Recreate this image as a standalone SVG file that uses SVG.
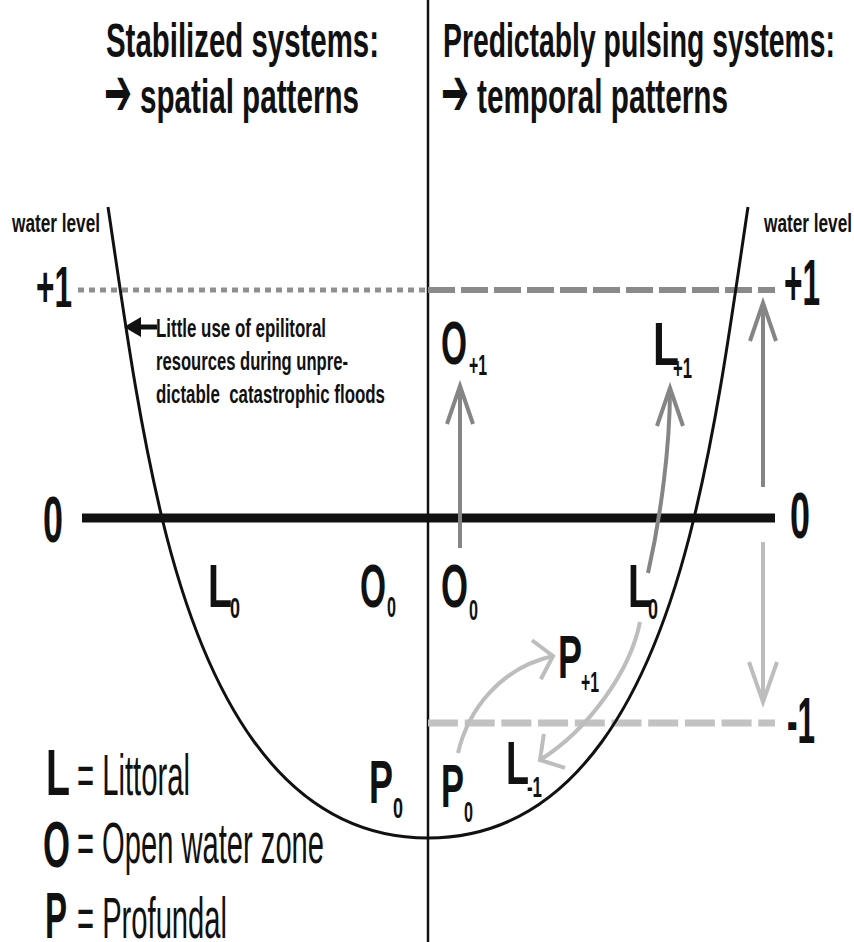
<svg xmlns="http://www.w3.org/2000/svg" width="854" height="942" viewBox="0 0 854 942">
<style>
.t{font-family:"Liberation Sans","DejaVu Sans",Arial,sans-serif;font-weight:bold;fill:#111}
.title{font-size:48px}
.arrow{font-family:"DejaVu Sans",sans-serif;font-weight:bold;font-size:68px;fill:#111}
.big{font-size:62px}
.num{font-size:64px}
.sub{font-size:30px}
.small{font-size:25px}
.note{font-size:26px;white-space:pre}
.reg{font-weight:normal;font-size:58px}
.mid{stroke:#858585;stroke-width:4;fill:none}
.light{stroke:#bdbdbd;stroke-width:4;fill:none}
</style>
<defs>
<marker id="hm" markerUnits="userSpaceOnUse" orient="auto" refX="0" refY="0" markerWidth="60" markerHeight="60" viewBox="-50 -30 60 60" overflow="visible">
<path d="M-38,-13 L0,0 L-38,13" stroke="#858585" stroke-width="4" fill="none" stroke-linejoin="miter"/>
</marker>
<marker id="hl" markerUnits="userSpaceOnUse" orient="auto" refX="0" refY="0" markerWidth="60" markerHeight="60" viewBox="-50 -30 60 60" overflow="visible">
<path d="M-40,-14 L0,0 L-40,14" stroke="#bdbdbd" stroke-width="4" fill="none"/>
</marker>
<marker id="hlw" markerUnits="userSpaceOnUse" orient="auto" refX="0" refY="0" markerWidth="60" markerHeight="60" viewBox="-50 -30 60 60" overflow="visible">
<path d="M-17,-20 L0,0 L-17,20" stroke="#bdbdbd" stroke-width="4" fill="none"/>
</marker>
</defs>
<rect width="854" height="942" fill="#fff"/>

<g id="titles">
<text class="t title" x="106" y="57" textLength="273" lengthAdjust="spacingAndGlyphs">Stabilized systems:</text>
<text class="arrow" x="104" y="115" textLength="28" lengthAdjust="spacingAndGlyphs">➔</text>
<text class="t title" x="140" y="113" textLength="219" lengthAdjust="spacingAndGlyphs">spatial patterns</text>
<text class="t title" x="443" y="57" textLength="392" lengthAdjust="spacingAndGlyphs">Predictably pulsing systems:</text>
<text class="arrow" x="441" y="115" textLength="28" lengthAdjust="spacingAndGlyphs">➔</text>
<text class="t title" x="477" y="113" textLength="251" lengthAdjust="spacingAndGlyphs">temporal patterns</text>
</g>

<g id="divider">
<line x1="428" y1="0" x2="428" y2="942" stroke="#111" stroke-width="2.5"/>
</g>

<g id="levels">
<line x1="78" y1="290" x2="428" y2="290" stroke="#8f8f8f" stroke-width="5" stroke-dasharray="6 5"/>
<line x1="428" y1="290" x2="775" y2="290" stroke="#8a8a8a" stroke-width="6" stroke-dasharray="27 6"/>
<line x1="82" y1="518" x2="775" y2="518" stroke="#111" stroke-width="9"/>
<line x1="428" y1="723" x2="775" y2="723" stroke="#c2c2c2" stroke-width="7" stroke-dasharray="30 6.7"/>
</g>

<g id="basin">
<path d="M108,207 C123.6,311 137,414 162,518 C203,688 278,838 428,838 C578,838 653,688 694,518 C719,414 732.4,311 748,207" fill="none" stroke="#111" stroke-width="3"/>
</g>

<g id="axis-labels">
<text class="t small" x="12" y="232" textLength="88" lengthAdjust="spacingAndGlyphs">water level</text>
<text class="t small" x="764" y="232" textLength="88" lengthAdjust="spacingAndGlyphs">water level</text>
<text class="t num" x="36" y="307" textLength="36" lengthAdjust="spacingAndGlyphs" style="font-size:58px">+1</text>
<text class="t num" x="784" y="305" textLength="36" lengthAdjust="spacingAndGlyphs">+1</text>
<text class="t num" x="43" y="542" textLength="20" lengthAdjust="spacingAndGlyphs">0</text>
<text class="t num" x="790" y="538" textLength="20" lengthAdjust="spacingAndGlyphs">0</text>
<text class="t num" x="787" y="743" textLength="28" lengthAdjust="spacingAndGlyphs">-1</text>
</g>

<g id="note">
<text class="t note" x="156" y="337" textLength="170" lengthAdjust="spacingAndGlyphs">Little use of epilitoral</text>
<text class="t note" x="156" y="370" textLength="192" lengthAdjust="spacingAndGlyphs">resources during unpre-</text>
<text class="t note" x="156" y="403" textLength="229" lengthAdjust="spacingAndGlyphs">dictable  catastrophic floods</text>
</g>

<g id="L0-left"><text class="t big" x="208" y="607" textLength="24" lengthAdjust="spacingAndGlyphs">L</text><text class="t sub" x="230" y="618" textLength="10" lengthAdjust="spacingAndGlyphs">0</text></g>
<g id="O0-left"><text class="t big" x="360" y="607" textLength="26" lengthAdjust="spacingAndGlyphs">O</text><text class="t sub" x="387" y="617" textLength="9" lengthAdjust="spacingAndGlyphs">0</text></g>
<g id="P0-left"><text class="t big" x="369" y="803" textLength="24" lengthAdjust="spacingAndGlyphs">P</text><text class="t sub" x="393" y="818" textLength="10" lengthAdjust="spacingAndGlyphs">0</text></g>

<g id="O+1"><text class="t big" x="441" y="364" textLength="26" lengthAdjust="spacingAndGlyphs">O</text><text class="t sub" x="469" y="375" textLength="18" lengthAdjust="spacingAndGlyphs">+1</text></g>
<g id="L+1"><text class="t big" x="653" y="365" textLength="26" lengthAdjust="spacingAndGlyphs">L</text><text class="t sub" x="673" y="378" textLength="19" lengthAdjust="spacingAndGlyphs">+1</text></g>
<g id="O0-right"><text class="t big" x="441" y="607" textLength="27" lengthAdjust="spacingAndGlyphs">O</text><text class="t sub" x="469" y="620" textLength="9" lengthAdjust="spacingAndGlyphs">0</text></g>
<g id="L0-right"><text class="t big" x="628" y="607" textLength="24" lengthAdjust="spacingAndGlyphs">L</text><text class="t sub" x="648" y="619" textLength="10" lengthAdjust="spacingAndGlyphs">0</text></g>
<g id="P+1"><text class="t big" x="558" y="678" textLength="24" lengthAdjust="spacingAndGlyphs">P</text><text class="t sub" x="581" y="692" textLength="18" lengthAdjust="spacingAndGlyphs">+1</text></g>
<g id="P0-right"><text class="t big" x="441" y="807" textLength="23" lengthAdjust="spacingAndGlyphs">P</text><text class="t sub" x="464" y="822" textLength="9" lengthAdjust="spacingAndGlyphs">0</text></g>
<g id="L-1"><text class="t big" x="506" y="784" textLength="23" lengthAdjust="spacingAndGlyphs">L</text><text class="t sub" x="527" y="797" textLength="15" lengthAdjust="spacingAndGlyphs">-1</text></g>

<g id="legend">
<text class="t big" x="46" y="795" textLength="24" lengthAdjust="spacingAndGlyphs" style="font-size:64px">L</text>
<text class="t reg" x="77" y="795" textLength="113" lengthAdjust="spacingAndGlyphs">= Littoral</text>
<text class="t big" x="43" y="867" textLength="27" lengthAdjust="spacingAndGlyphs" style="font-size:64px">O</text>
<text class="t reg" x="77" y="863" textLength="247" lengthAdjust="spacingAndGlyphs">= Open water zone</text>
<text class="t big" x="45" y="938" textLength="22" lengthAdjust="spacingAndGlyphs" style="font-size:64px">P</text>
<text class="t reg" x="77" y="938" textLength="150" lengthAdjust="spacingAndGlyphs">= Profundal</text>
</g>

<g id="connectors">
<path d="M157,327 L138,327" stroke="#111" stroke-width="5" fill="none"/>
<path d="M124,327 L141,317 L141,337 Z" fill="#111"/>
<path class="mid" d="M460,548 L460,386" marker-end="url(#hm)"/>
<path class="mid" d="M648,573 C660,520 670,450 670,388" marker-end="url(#hm)"/>
<path class="mid" d="M763,487 L763,303" marker-end="url(#hm)"/>
<path class="light" d="M763,542 L763,702" marker-end="url(#hl)"/>
<path class="light" d="M458,753 C468,710 500,668 553,656" marker-end="url(#hlw)"/>
<path class="light" d="M640,622 C630,672 588,730 540,760" marker-end="url(#hlw)"/>
</g>
</svg>
